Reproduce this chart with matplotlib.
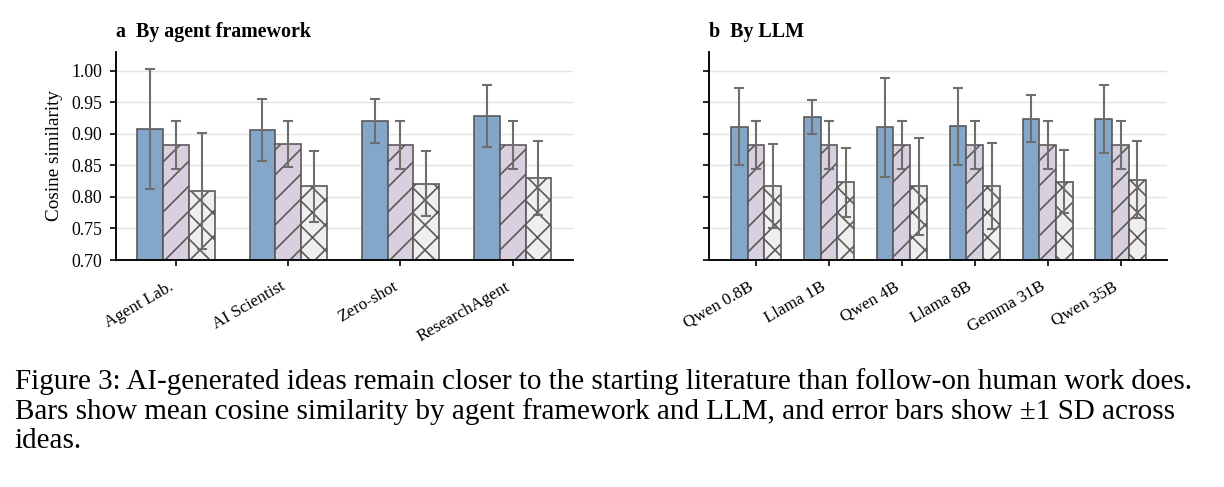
import matplotlib
matplotlib.use("Agg")
import matplotlib.pyplot as plt
import numpy as np

plt.rcParams['font.family'] = ['Liberation Serif', 'DejaVu Serif']
plt.rcParams['hatch.color'] = '#666666'
plt.rcParams['hatch.linewidth'] = 0.8

# panel a: by agent framework
frameworks = ['Agent Lab.', 'AI Scientist', 'Zero-shot', 'ResearchAgent']
fw_ai = [0.908, 0.906, 0.920, 0.928]
fw_ai_sd = [0.095, 0.049, 0.035, 0.049]
fw_human = [0.882, 0.884, 0.882, 0.882]
fw_human_sd = [0.038, 0.037, 0.038, 0.038]
fw_other = [0.810, 0.817, 0.821, 0.830]
fw_other_sd = [0.092, 0.056, 0.052, 0.059]

# panel b: by LLM
llms = ['Qwen 0.8B', 'Llama 1B', 'Qwen 4B', 'Llama 8B', 'Gemma 31B', 'Qwen 35B']
llm_ai = [0.911, 0.926, 0.910, 0.912, 0.924, 0.924]
llm_ai_sd = [0.061, 0.027, 0.079, 0.061, 0.037, 0.054]
llm_human = [0.882, 0.882, 0.882, 0.882, 0.882, 0.882]
llm_human_sd = [0.038, 0.038, 0.038, 0.038, 0.038, 0.038]
llm_other = [0.817, 0.823, 0.817, 0.817, 0.824, 0.827]
llm_other_sd = [0.067, 0.055, 0.077, 0.068, 0.050, 0.061]

colors = ['#84a6c8', '#d9d0df', '#efefef']
hatches = ['', '//', 'xx']
edge = '#5a5a5a'
w = 0.23

fig = plt.figure(figsize=(1224 / 150, 487 / 150), dpi=150)
ax1 = fig.add_axes([0.0948, 0.4661, 0.3731, 0.4277])
ax2 = fig.add_axes([0.5795, 0.4661, 0.3742, 0.4277])


def draw(ax, cats, series, title, pad):
    x = np.arange(len(cats))
    for i, (vals, sd) in enumerate(series):
        ax.bar(x + (i - 1) * w, vals, w, yerr=sd, color=colors[i], hatch=hatches[i],
               edgecolor=edge, linewidth=0.8, zorder=2,
               error_kw=dict(ecolor='#6e6e6e', elinewidth=1.0, capsize=2.6, capthick=1.0))
    ax.set_ylim(0.70, 1.03)
    ax.set_yticks([0.70, 0.75, 0.80, 0.85, 0.90, 0.95, 1.00])
    ax.set_xticks(x)
    ax.set_xticklabels(cats, rotation=30, ha='right', fontsize=8.2)
    ax.set_xlim(x[0] - pad, x[-1] + pad)
    ax.grid(axis='y', color='#e4e4e4', linewidth=0.7, zorder=0)
    ax.set_axisbelow(True)
    for s in ['top', 'right']:
        ax.spines[s].set_visible(False)
    for s in ['left', 'bottom']:
        ax.spines[s].set_linewidth(0.9)
    ax.tick_params(axis='y', labelsize=8.5)
    ax.tick_params(axis='x', pad=6)
    ax.tick_params(width=0.8, length=3)
    ax.set_title(title, loc='left', fontsize=9.6, fontweight='bold', pad=7)


draw(ax1, frameworks, [(fw_ai, fw_ai_sd), (fw_human, fw_human_sd), (fw_other, fw_other_sd)],
     'a  By agent framework', 0.535)
draw(ax2, llms, [(llm_ai, llm_ai_sd), (llm_human, llm_human_sd), (llm_other, llm_other_sd)],
     'b  By LLM', 0.64)
ax1.set_yticklabels(['0.70', '0.75', '0.80', '0.85', '0.90', '0.95', '1.00'])
ax2.set_yticklabels([])
ax1.set_ylabel('Cosine similarity', fontsize=9.2, labelpad=4)

caption = ("Figure 3: AI-generated ideas remain closer to the starting literature than follow-on human work does.\n"
           "Bars show mean cosine similarity by agent framework and LLM, and error bars show \u00b11 SD across\n"
           "ideas.")
fig.text(0.012, 0.244, caption, fontsize=14, va='top', ha='left', linespacing=1.14)

fig.savefig('out.png', dpi=150)
